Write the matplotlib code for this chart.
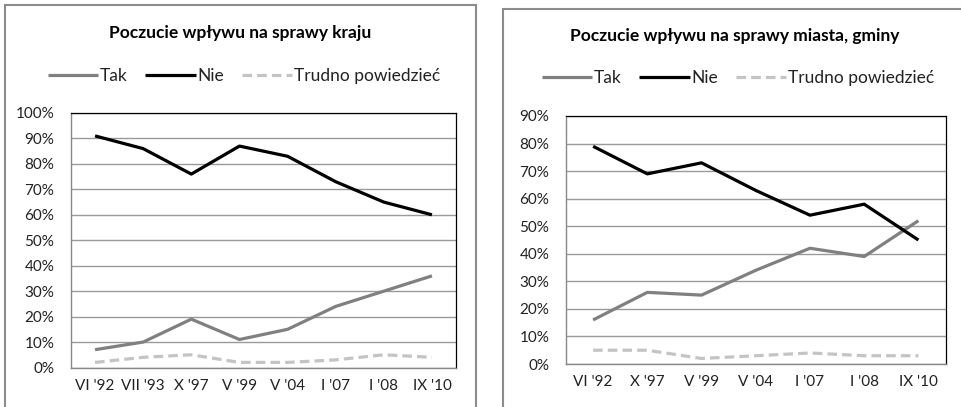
import matplotlib
matplotlib.use("Agg")
import matplotlib.pyplot as plt
from matplotlib.patches import Rectangle
from matplotlib.ticker import FuncFormatter

plt.rcParams['font.family'] = ['Lato', 'DejaVu Sans']

# Left chart: Poczucie wpływu na sprawy kraju
cats_kraj = ["VI '92", "VII '93", "X '97", "V '99", "V '04", "I '07", "I '08", "IX '10"]
tak_kraj = [7, 10, 19, 11, 15, 24, 30, 36]
nie_kraj = [91, 86, 76, 87, 83, 73, 65, 60]
trudno_kraj = [2, 4, 5, 2, 2, 3, 5, 4]

# Right chart: Poczucie wpływu na sprawy miasta, gminy
cats_gmina = ["VI '92", "X '97", "V '99", "V '04", "I '07", "I '08", "IX '10"]
tak_gmina = [16, 26, 25, 34, 42, 39, 52]
nie_gmina = [79, 69, 73, 63, 54, 58, 45]
trudno_gmina = [5, 5, 2, 3, 4, 3, 3]

titles = ["Poczucie wpływu na sprawy kraju", "Poczucie wpływu na sprawy miasta, gminy"]
series_names = ["Tak", "Nie", "Trudno powiedzieć"]

W, H = 961, 407
fig = plt.figure(figsize=(W / 100, H / 100), dpi=100)
fig.patch.set_facecolor('white')

# panel borders (pixel coords -> figure fraction)
def px_rect(x0, y0, x1, y1):
    return (x0 / W, 1 - y1 / H, (x1 - x0) / W, (y1 - y0) / H)

for (x0, y0, x1, y1) in [(4.5, 5, 476, 420), (503, 8.5, 980, 420)]:
    l, b, w, h = px_rect(x0, y0, x1, y1)
    fig.patches.append(Rectangle((l, b), w, h, transform=fig.transFigure,
                                 fill=False, edgecolor='#8c8c8c', linewidth=1.5,
                                 clip_on=False))

configs = [
    dict(cats=cats_kraj, tak=tak_kraj, nie=nie_kraj, tr=trudno_kraj, ymax=100,
         box=(71, 113, 456, 367.5), title_xy=(240, 33), leg_xy=(244, 76), title=titles[0]),
    dict(cats=cats_gmina, tak=tak_gmina, nie=nie_gmina, tr=trudno_gmina, ymax=90,
         box=(566, 116, 945.5, 364), title_xy=(735, 36), leg_xy=(738, 78), title=titles[1]),
]

for c in configs:
    x0, y0, x1, y1 = c['box']
    ax = fig.add_axes(px_rect(x0, y0, x1, y1))
    x = list(range(len(c['cats'])))
    ax.plot(x, c['tak'], color='#808080', lw=2.3, label=series_names[0], solid_capstyle='butt')
    ax.plot(x, c['nie'], color='#000000', lw=2.3, label=series_names[1], solid_capstyle='butt')
    ax.plot(x, c['tr'], color='#c4c4c4', lw=2.3, ls=(0, (3, 1.6)), label=series_names[2])
    ax.set_xlim(-0.5, len(x) - 0.5)
    ax.set_ylim(0, c['ymax'])
    ax.set_yticks(range(0, c['ymax'] + 1, 10))
    ax.yaxis.set_major_formatter(FuncFormatter(lambda v, p: f"{int(v)}%"))
    ax.set_xticks(x)
    ax.set_xticklabels(c['cats'])
    ax.grid(axis='y', color='#9a9a9a', lw=1.0)
    ax.set_axisbelow(True)
    ax.tick_params(axis='both', length=0, labelsize=11, colors='#222222')
    ax.tick_params(axis='y', pad=12)
    ax.tick_params(axis='x', pad=8)
    for s in ['top', 'right']:
        ax.spines[s].set_color('#000000')
        ax.spines[s].set_linewidth(0.9)
    ax.spines['left'].set_color('#888888')
    ax.spines['bottom'].set_color('#888888')
    ax.spines['left'].set_linewidth(1.0)
    ax.spines['bottom'].set_linewidth(1.0)

    tx, ty = c['title_xy']
    fig.text(tx / W, 1 - ty / H, c['title'], ha='center', va='center',
             fontsize=12.5, fontweight='bold', color='#000000')
    lx, ly = c['leg_xy']
    ax.legend(loc='center', bbox_to_anchor=(lx / W, 1 - ly / H), bbox_transform=fig.transFigure,
              ncol=3, frameon=False, fontsize=12.5, handlelength=2.9, handletextpad=0.1,
              columnspacing=1.0, borderpad=0, labelcolor='#222222')

fig.savefig('out.png', dpi=100, facecolor='white')
